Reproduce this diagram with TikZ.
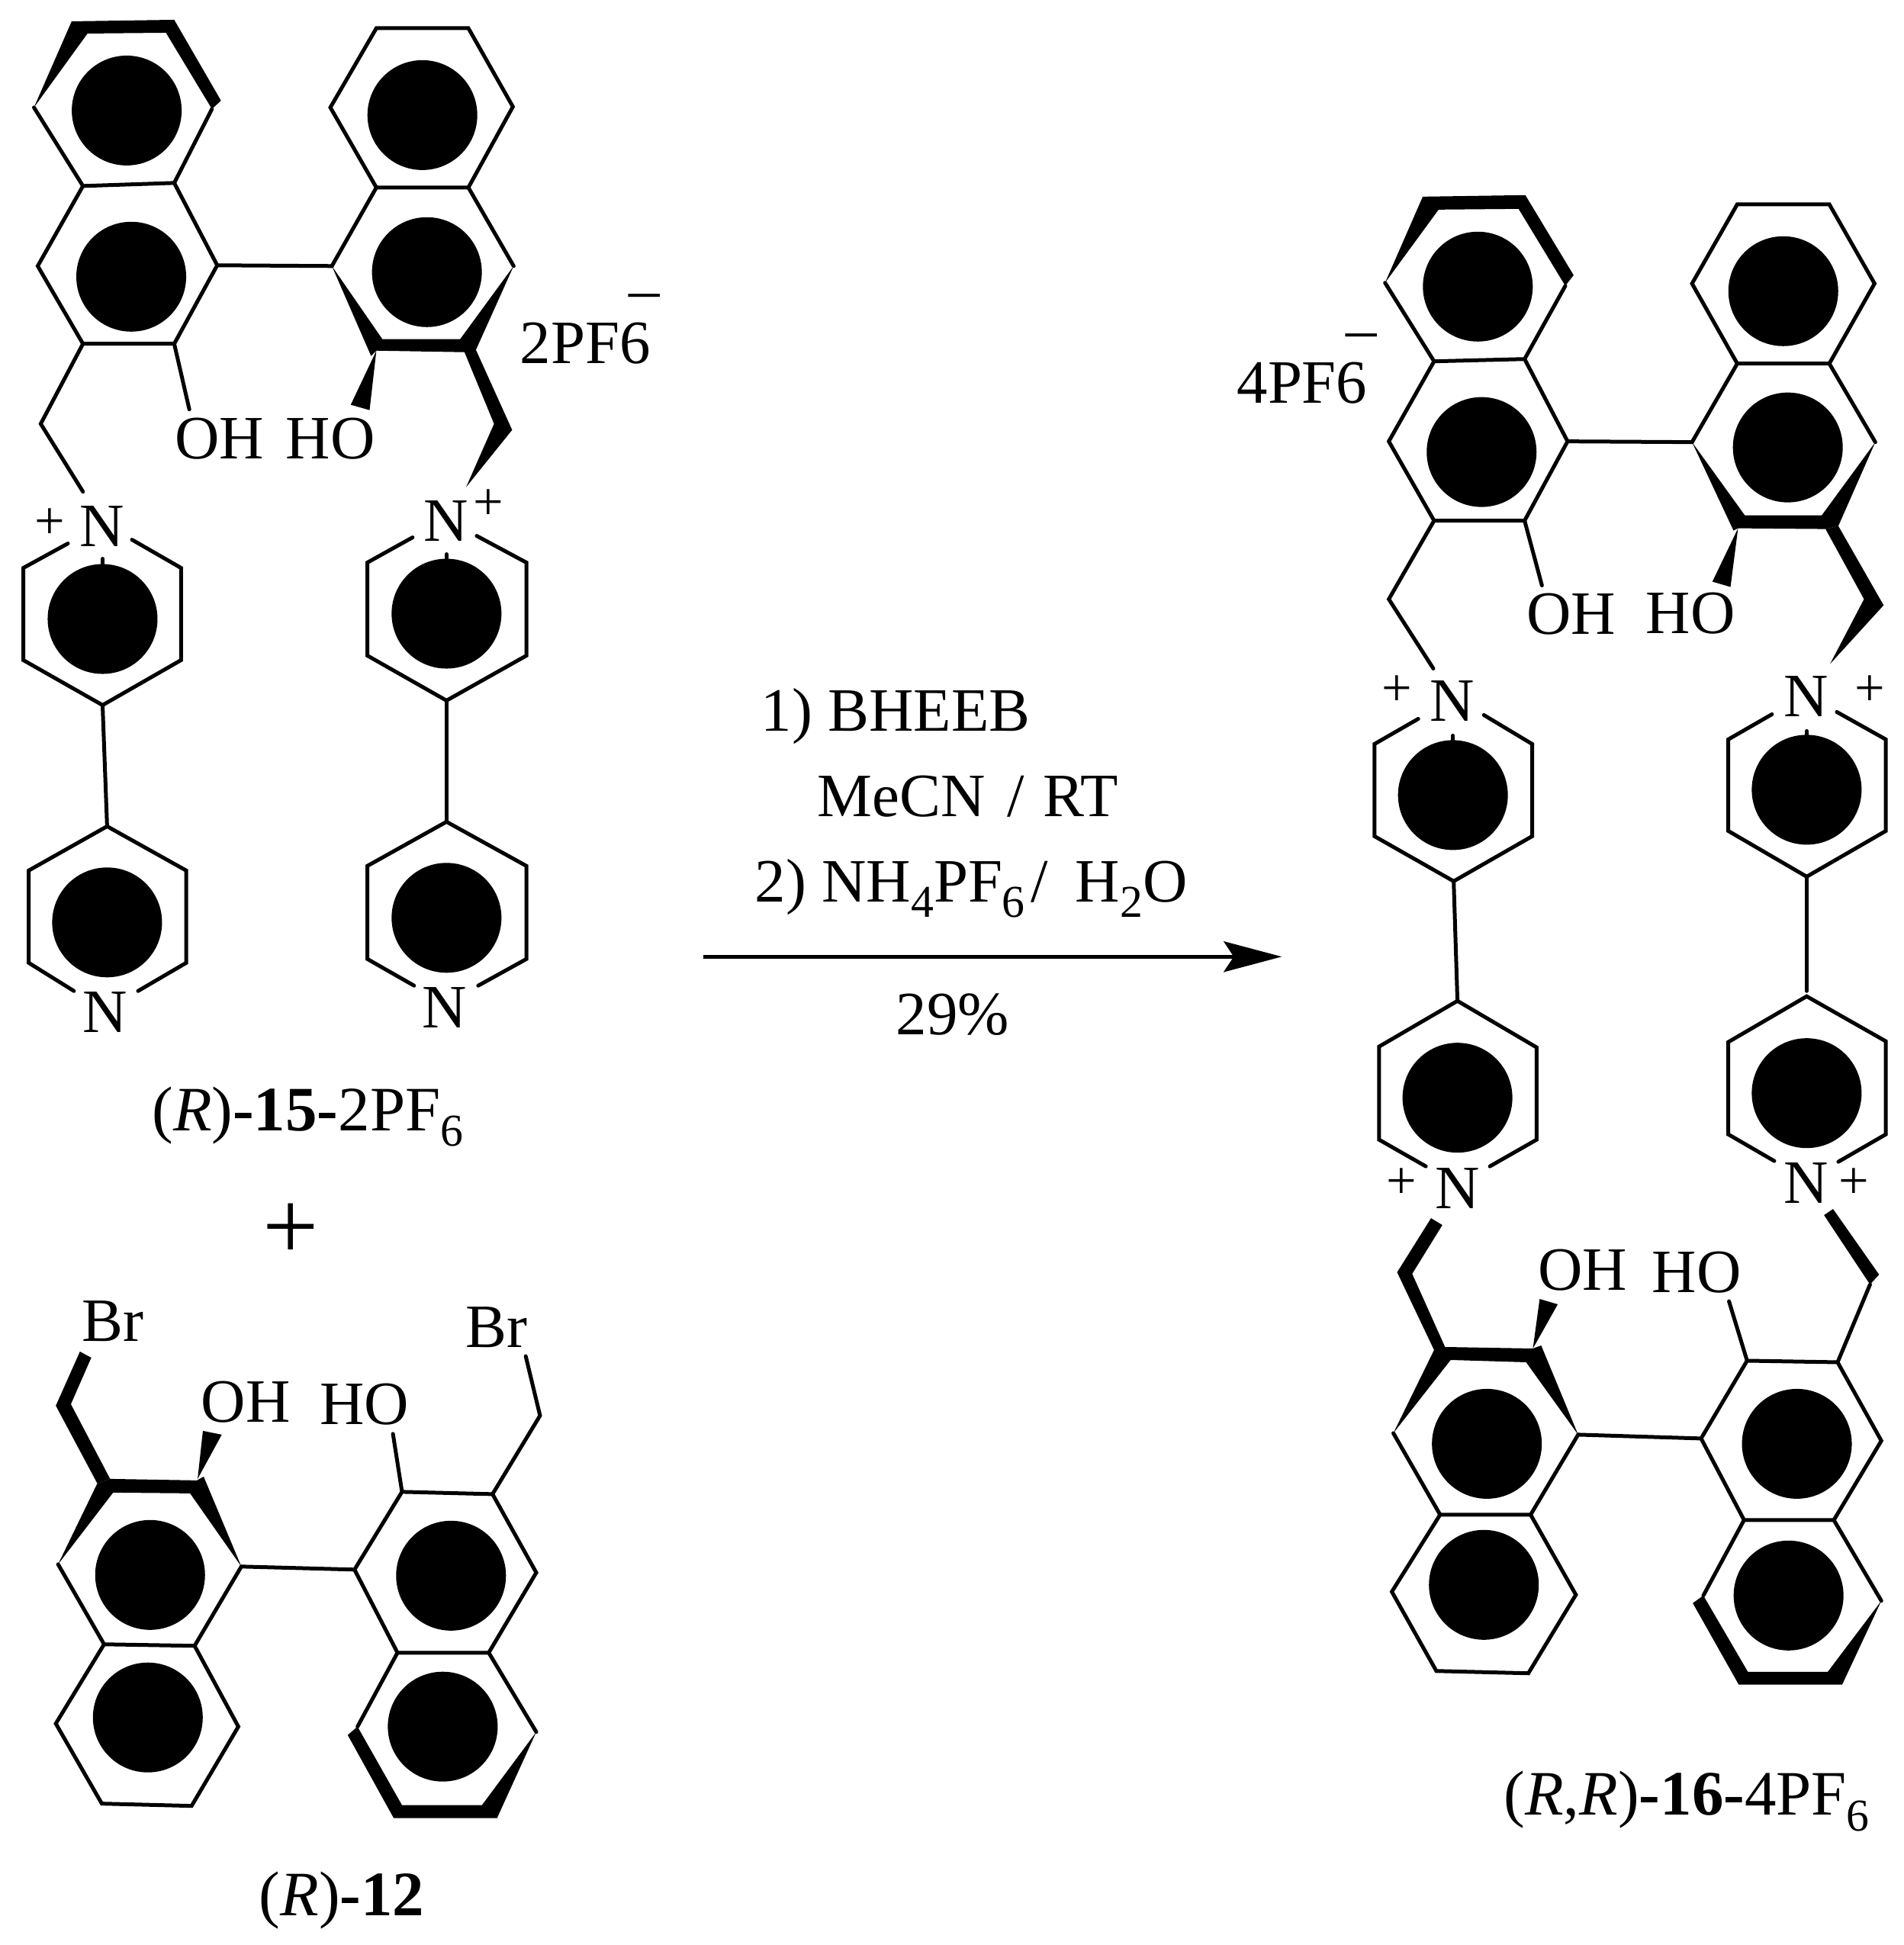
\documentclass[tikz,border=0pt]{standalone}
\usepackage{fontspec}
\setmainfont{Liberation Serif}
\usetikzlibrary{arrows.meta}
\newcommand{\subnum}[1]{\raisebox{-0.25em}{\fontsize{17}{17}\selectfont #1}}
\tikzset{
	chemtext/.style={inner sep=0pt,font=\fontsize{23}{27}\selectfont},
	chembase/.style={chemtext,anchor=base west},
	molname/.style={inner sep=0pt,anchor=base west,font=\fontsize{23.6}{27}\selectfont},
	charge/.style={inner sep=0pt,font=\fontsize{20}{22}\selectfont},
	bond/.style={line width=0.5mm,line cap=round,line join=miter},
	wedgefill/.style={fill=black}
}
\begin{document}
\begin{tikzpicture}[x=0.009885cm,y=-0.01cm]
	\useasboundingbox (0,0) rectangle (24.95cm,-25.5cm);
	% aromatic rings, filled centres
	\foreach \n/\x/\y in {ad1/168/145,ad2/174/363,ad3/560/151,ad4/566/357,ad5/136/812,ad6/142/1210,ad7/592/805,ad8/592/1204,
		bd1/199/2066,bd2/196/2253,bd3/598/2067,bd4/587/2265}
		{\coordinate (\n) at (\x,\y); \fill (\n) circle[radius=0.72cm];}
	% (R)-15
	\foreach \n/\x/\y in {at1/95/28,at2/231/26,at3/293/132,at4/281/143,at5/220/43,at6/116/44,at7/45/141,
		aj1/110/244,aj2/231/240,al1/50/349,al2/110/451,al3/231/451,al4/288/348,
		af1/251/537,af2/54/556,af3/110/645,
		ar1/499/37,ar2/621/37,ar3/680/140,ar4/621/246,ar5/499/246,ar6/438/141,ar7/681/349,ar8/440/349,
		aw1/507/445,aw2/610/445,aw3/631/459,aw4/615/462,aw5/492/467,
		ah1/499/460,ah2/465/531,ah3/490/538,
		ak1/615/460,ak2/631/459,ak3/679/564,ak4/618/639,ak5/655/556,
		ap1/90/713,ap2/31/745,ap3/31/866,ap4/136/925,ap5/240/866,ap6/240/745,ap7/175/708,apt/136/733,
		aq1/142/1084,aq2/247/1142,aq3/247/1263,aq4/183/1300,aq5/98/1300,aq6/38/1263,aq7/38/1142,
		as1/547/705,as2/487/738,as3/487/860,as4/592/919,as5/698/860,as6/698/738,as7/632/703,ast/592/727,
		au1/592/1078,au2/698/1136,au3/698/1258,au4/634/1293,au5/549/1293,au6/487/1258,au7/487/1136}
		\coordinate (\n) at (\x,\y);
	\fill[wedgefill] (at7) -- (at1) -- (at2) -- (at3) -- (at4) -- (at5) -- (at6) -- cycle;
	\draw[bond] (at7) -- (aj1) -- (aj2) -- (at4);
	\draw[bond] (aj1) -- (al1) -- (al2) -- (al3) -- (al4) -- (aj2);
	\draw[bond] (al4) -- (ar8);
	\draw[bond] (al3) -- (af1);
	\draw[bond] (al2) -- (af2) -- (af3);
	\draw[bond] (ar4) -- (ar3) -- (ar2) -- (ar1) -- (ar6) -- (ar5) -- cycle;
	\draw[bond] (ar5) -- (ar8);
	\draw[bond] (ar4) -- (ar7);
	\fill[wedgefill] (ar8) -- (aw1) -- (aw2) -- (ar7) -- (aw3) -- (aw4) -- (ah1) -- (aw5) -- cycle;
	\fill[wedgefill] (ah1) -- (ah2) -- (ah3) -- cycle;
	\fill[wedgefill] (ak1) -- (ak2) -- (ak3) -- (ak4) -- (ak5) -- cycle;
	\draw[bond] (ap1) -- (ap2) -- (ap3) -- (ap4) -- (ap5) -- (ap6) -- (ap7);
	\draw[bond] (apt) -- (ad5);
	\draw[bond] (ap4) -- (aq1);
	\draw[bond] (aq5) -- (aq6) -- (aq7) -- (aq1) -- (aq2) -- (aq3) -- (aq4);
	\draw[bond] (as1) -- (as2) -- (as3) -- (as4) -- (as5) -- (as6) -- (as7);
	\draw[bond] (ast) -- (ad7);
	\draw[bond] (as4) -- (au1);
	\draw[bond] (au5) -- (au6) -- (au7) -- (au1) -- (au2) -- (au3) -- (au4);
	\node[chemtext] (aoh) at (291,575) {OH};
	\node[chemtext] (aho) at (438,575) {HO};
	\node[chemtext] (an1) at (135,690) {N};
	\node[charge] (ac1) at (66,687) {+};
	\node[chemtext] (an2) at (591,683) {N};
	\node[charge] (ac2) at (648,662) {+};
	\node[chemtext] (an3) at (139,1328) {N};
	\node[chemtext] (an4) at (589,1322) {N};
	\node[chembase] (apf) at (689,477) {2PF6\raisebox{0.87em}{\rlap{\kern-0.35em –}}};
	\node[molname] (alabel) at (201,1483) {(\textit{R})\textbf{-15-}2PF\subnum{6}};
	\node[inner sep=0pt,font=\fontsize{37}{40}\selectfont] (plus) at (386,1616) {+};
	% (R)-12
	\foreach \n/\x/\y in {bw1/77/2052,bw2/129/1946,bw3/146/1940,bw4/261/1942,bw5/270/1937,bw6/320/2055,bw7/252/1959,bw8/150/1958,
		bj1/138/2157,bj2/258/2159,bl1/74/2261,bl2/135/2366,bl3/254/2369,bl4/316/2265,
		bo1/262/1940,bo2/269/1877,bo3/294/1882,
		bk1/129/1946,bk2/146/1940,bk3/94/1842,bk4/121/1781,bk5/106/1773,bk6/74/1844,
		br1/533/1957,br2/653/1960,br3/711/2063,br4/648/2168,br5/527/2168,br6/470/2059,
		bu1/711/2272,bu2/659/2385,bu3/522/2385,bu4/461/2276,bu5/474/2265,bu6/533/2368,bu7/639/2368,
		bf1/521/1881,bf2/716/1857,bf3/697/1779}
		\coordinate (\n) at (\x,\y);
	\fill[wedgefill] (bw1) -- (bw2) -- (bw3) -- (bw4) -- (bw5) -- (bw6) -- (bw7) -- (bw8) -- cycle;
	\draw[bond] (bw1) -- (bj1) -- (bj2) -- (bw6);
	\draw[bond] (bj1) -- (bl1) -- (bl2) -- (bl3) -- (bl4) -- (bj2);
	\draw[bond] (bw6) -- (br6);
	\fill[wedgefill] (bo1) -- (bo2) -- (bo3) -- cycle;
	\fill[wedgefill] (bk1) -- (bk2) -- (bk3) -- (bk4) -- (bk5) -- (bk6) -- cycle;
	\draw[bond] (br1) -- (br2) -- (br3) -- (br4) -- (br5) -- (br6) -- cycle;
	\draw[bond] (br5) -- (bu5);
	\draw[bond] (br4) -- (bu1);
	\fill[wedgefill] (bu4) -- (bu3) -- (bu2) -- (bu1) -- (bu7) -- (bu6) -- (bu5) -- cycle;
	\draw[bond] (br1) -- (bf1);
	\draw[bond] (br2) -- (bf2) -- (bf3);
	\node[chemtext] (bbr1) at (150,1733) {Br};
	\node[chemtext] (boh) at (326,1839) {OH};
	\node[chemtext] (bho) at (483,1842) {HO};
	\node[chemtext] (bbr2) at (658,1741) {Br};
	\node[molname] (blabel) at (343,2513) {(\textit{R})\textbf{-12}};
	% reaction arrow
	\begin{scope}[xshift=0.103cm]
		\coordinate (arrowa) at (922,1255);
		\coordinate (arrowb) at (1689,1255);
		\draw[line width=0.53mm,-{Stealth[length=0.76cm,width=0.4cm,inset=0.13cm]}] (arrowa) -- (arrowb);
		\node[chembase] (step1) at (998,959) {1) BHEEB};
		\node[chembase] (step1b) at (1073,1071) {MeCN\kern0.1em{} /\kern0.05em{} RT};
		\node[chembase] (step2) at (990,1183) {2) NH\subnum{4}PF\subnum{6}\kern0.1em/\kern0.44em H\subnum{2}O};
		\node[chembase] (yield) at (1177,1357) {29\%};
	\end{scope}
	\begin{scope}[xshift=0.201cm]
	\foreach \n/\x/\y in {cd1/1939/376,cd2/1944/593,cd3/2344/382,cd4/2350/587,cd5/1906/1043,cd6/1912/1440,cd7/2375/1036,cd8/2375/1434,
		dd1/1951/1894,dd2/1947/2079,dd3/2362/1894,dd4/2351/2093}
		{\coordinate (\n) at (\x,\y); \fill (\n) circle[radius=0.72cm];}
	% (R,R)-16, upper half
	\foreach \n/\x/\y in {ct1/1816/371,ct2/1866/258,ct3/2002/256,ct4/2066/361,ct5/2055/375,ct6/1993/274,ct7/1887/275,
		cj1/1881/474,cj2/2001/471,cl1/1821/579,cl2/1881/683,cl3/2001/683,cl4/2058/579,
		cf1/2024/768,cf2/1821/786,cf3/1880/877,
		cr1/2283/268,cr2/2405/268,cr3/2465/372,cr4/2405/477,cr5/2283/477,cr6/2223/372,cr7/2466/580,cr8/2223/580,
		cw1/2293/676,cw2/2395/676,cw3/2417/690,cw4/2400/694,cw5/2278/696,
		ch1/2284/693,ch2/2250/763,ch3/2274/770,
		ck1/2400/694,ck2/2417/690,ck3/2477/794,ck4/2406/871,ck5/2451/786,
		cp1/1860/943,cp2/1802/976,cp3/1802/1097,cp4/1907/1156,cp5/2011/1097,cp6/2011/976,cp7/1947/938,cpt/1906/965,
		cq1/1912/1313,cq2/2017/1374,cq3/2017/1495,cq4/1955/1530,cq5/1870/1530,cq6/1808/1495,cq7/1808/1373,
		cs1/2329/937,cs2/2271/970,cs3/2271/1090,cs4/2375/1150,cs5/2480/1090,cs6/2480/970,cs7/2415/934,cst/2375/959,csb/2375/1300,
		cu1/2375/1307,cu2/2480/1366,cu3/2480/1488,cu4/2417/1524,cu5/2332/1523,cu6/2271/1488,cu7/2271/1367}
		\coordinate (\n) at (\x,\y);
	\fill[wedgefill] (ct1) -- (ct2) -- (ct3) -- (ct4) -- (ct5) -- (ct6) -- (ct7) -- cycle;
	\draw[bond] (ct1) -- (cj1) -- (cj2) -- (ct5);
	\draw[bond] (cj1) -- (cl1) -- (cl2) -- (cl3) -- (cl4) -- (cj2);
	\draw[bond] (cl4) -- (cr8);
	\draw[bond] (cl3) -- (cf1);
	\draw[bond] (cl2) -- (cf2) -- (cf3);
	\draw[bond] (cr1) -- (cr2) -- (cr3) -- (cr4) -- (cr5) -- (cr6) -- cycle;
	\draw[bond] (cr5) -- (cr8);
	\draw[bond] (cr4) -- (cr7);
	\fill[wedgefill] (cr8) -- (cw1) -- (cw2) -- (cr7) -- (cw3) -- (cw4) -- (ch1) -- (cw5) -- cycle;
	\fill[wedgefill] (ch1) -- (ch2) -- (ch3) -- cycle;
	\fill[wedgefill] (ck1) -- (ck2) -- (ck3) -- (ck4) -- (ck5) -- cycle;
	\draw[bond] (cp1) -- (cp2) -- (cp3) -- (cp4) -- (cp5) -- (cp6) -- (cp7);
	\draw[bond] (cpt) -- (cd5);
	\draw[bond] (cp4) -- (cq1);
	\draw[bond] (cq5) -- (cq6) -- (cq7) -- (cq1) -- (cq2) -- (cq3) -- (cq4);
	\draw[bond] (cs1) -- (cs2) -- (cs3) -- (cs4) -- (cs5) -- (cs6) -- (cs7);
	\draw[bond] (cst) -- (cd7);
	\draw[bond] (cs4) -- (csb);
	\draw[bond] (cu5) -- (cu6) -- (cu7) -- (cu1) -- (cu2) -- (cu3) -- (cu4);
	\node[chembase] (cpf) at (1619,529) {4PF6\raisebox{0.87em}{\rlap{\kern-0.35em –}}};
	\node[chemtext] (coh) at (2063,806) {OH};
	\node[chemtext] (cho) at (2221,805) {HO};
	\node[chemtext] (cn1) at (1905,920) {N};
	\node[charge] (cc1) at (1832,906) {+};
	\node[chemtext] (cn2) at (2374,914) {N};
	\node[charge] (cc2) at (2459,906) {+};
	\node[chemtext] (cn3) at (1912,1559) {N};
	\node[charge] (cc3) at (1838,1553) {+};
	\node[chemtext] (cn4) at (2374,1552) {N};
	\node[charge] (cc4) at (2438,1553) {+};
	% (R,R)-16, lower half
	\foreach \n/\x/\y in {dk1/1877/1598,dk2/1892/1607,dk3/1852/1671,dk4/1896/1768,dk5/1881/1771,dk6/1832/1669,
		dw1/1827/1880,dw2/1881/1771,dw3/1896/1767,dw4/2012/1769,dw5/2023/1765,dw6/2072/1882,dw7/2003/1787,dw8/1903/1784,
		dj1/1889/1987,dj2/2009/1987,dl1/1825/2088,dl2/1884/2192,dl3/2006/2195,dl4/2069/2092,
		do1/2012/1769,do2/2021/1704,do3/2045/1711,
		dr1/2296/1785,dr2/2416/1787,dr3/2474/1890,dr4/2411/1994,dr5/2292/1994,dr6/2235/1887,
		df1/2272/1707,df2/2459/1685,
		dn1/2398/1594,dn2/2410/1586,dn3/2471/1672,
		du1/2474/2100,du2/2422/2210,du3/2285/2210,du4/2224/2103,du5/2238/2093,du6/2297/2193,du7/2403/2193}
		\coordinate (\n) at (\x,\y);
	\fill[wedgefill] (dk1) -- (dk2) -- (dk3) -- (dk4) -- (dk5) -- (dk6) -- cycle;
	\fill[wedgefill] (dw1) -- (dw2) -- (dw3) -- (dw4) -- (dw5) -- (dw6) -- (dw7) -- (dw8) -- cycle;
	\draw[bond] (dw1) -- (dj1) -- (dj2) -- (dw6);
	\draw[bond] (dj1) -- (dl1) -- (dl2) -- (dl3) -- (dl4) -- (dj2);
	\draw[bond] (dw6) -- (dr6);
	\fill[wedgefill] (do1) -- (do2) -- (do3) -- cycle;
	\draw[bond] (dr1) -- (dr2) -- (dr3) -- (dr4) -- (dr5) -- (dr6) -- cycle;
	\draw[bond] (dr1) -- (df1);
	\draw[bond] (dr2) -- (df2);
	\fill[wedgefill] (dn1) -- (dn2) -- (dn3) -- (df2) -- cycle;
	\draw[bond] (dr5) -- (du5);
	\draw[bond] (dr4) -- (du1);
	\fill[wedgefill] (du4) -- (du3) -- (du2) -- (du1) -- (du7) -- (du6) -- (du5) -- cycle;
	\node[chemtext] (doh) at (2078,1666) {OH};
	\node[chemtext] (dho) at (2229,1669) {HO};
	\node[molname] (dlabel) at (1973,2381) {(\textit{R},\textit{R})\textbf{-16-}4PF\subnum{6}};
	\end{scope}
\end{tikzpicture}
\end{document}
